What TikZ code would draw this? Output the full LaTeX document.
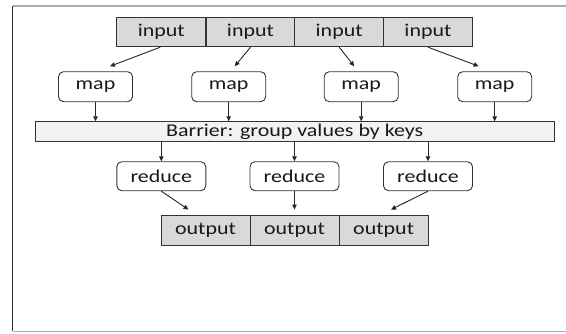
\documentclass[tikz,border=0pt]{standalone}
\usepackage{fontspec}
\setmainfont[FakeStretch=1.22]{Carlito}
\usetikzlibrary{arrows.meta}
\definecolor{cellgray}{HTML}{D9D9D9}
\definecolor{barfill}{HTML}{F2F2F2}
\definecolor{edge}{HTML}{333333}
\tikzset{
  lbl/.style={font=\fontsize{18}{21}\selectfont, text=black!90},
  cell/.style={lbl, draw=edge, line width=0.9pt, fill=cellgray, minimum width=89pt,
    minimum height=29.5pt, inner sep=0pt},
  task/.style={lbl, draw=edge, line width=0.9pt, fill=white, rounded corners=5pt,
    minimum height=30pt, inner sep=0pt},
  barrier/.style={lbl, draw=edge, line width=0.9pt, fill=barfill, minimum width=519pt,
    minimum height=20pt, inner sep=0pt},
  flow/.style={draw=black!85, line width=0.9pt, -{Triangle[length=5pt,width=4.5pt]}},
}
\begin{document}
\begin{tikzpicture}[x=1pt, y=-1pt]
\useasboundingbox (0,0) rectangle (566,333);
% page frame
\draw[gray!65, line width=1.6pt] (12.7,5.7) -- (570,5.7);
\draw[gray!65, line width=1.6pt] (12.7,331.3) -- (570,331.3);
\draw[black!80, line width=1pt] (12.7,5.7) -- (12.7,331.3);

% input splits
\node[cell] (in1) at (161.3,32) {input};
\node[cell] (in2) at (250.5,32) {input};
\node[cell] (in3) at (339.2,32) {input};
\node[cell] (in4) at (428,32) {input};

% map tasks
\node[task, minimum width=74pt] (m1) at (95.5,86.7) {map};
\node[task, minimum width=74pt] (m2) at (228.7,86.7) {map};
\node[task, minimum width=74pt] (m3) at (361.2,86.7) {map};
\node[task, minimum width=74pt] (m4) at (494.7,86.7) {map};

% shuffle barrier
\node[barrier] (bar) at (294.7,131.7) {Barrier: group values by keys};

% reduce tasks
\node[task, minimum width=89pt, minimum height=29pt] (r1) at (161.3,176.2) {reduce};
\node[task, minimum width=89pt, minimum height=29pt] (r2) at (294.5,176.2) {reduce};
\node[task, minimum width=89pt, minimum height=29pt] (r3) at (428,176.2) {reduce};

% output files
\node[cell] (o1) at (205.5,230.3) {output};
\node[cell] (o2) at (294.5,230.3) {output};
\node[cell] (o3) at (383.7,230.3) {output};

% input -> map
\draw[flow] ([xshift=-1pt]in1.south) -- ([xshift=14.5pt,yshift=5pt]m1.north);
\draw[flow] (in2.south) -- ([xshift=6pt,yshift=5pt]m2.north);
\draw[flow] (in3.south) -- ([xshift=-7pt,yshift=5pt]m3.north);
\draw[flow] (in4.south) -- ([xshift=-16pt,yshift=5pt]m4.north);

% map -> barrier
\foreach \m in {m1,m2,m3,m4}
  \draw[flow] (\m.south) -- (\m.south |- bar.north);

% barrier -> reduce
\foreach \r in {r1,r2,r3}
  \draw[flow] (\r.north |- bar.south) -- (\r.north);

% reduce -> output
\draw[flow] (r1.south) -- ([xshift=-17pt,yshift=5.5pt]o1.north);
\draw[flow] (r2.south) -- ([yshift=5.5pt]o2.north);
\draw[flow] (r3.south) -- ([xshift=7.3pt,yshift=5.5pt]o3.north);
\end{tikzpicture}
\end{document}
